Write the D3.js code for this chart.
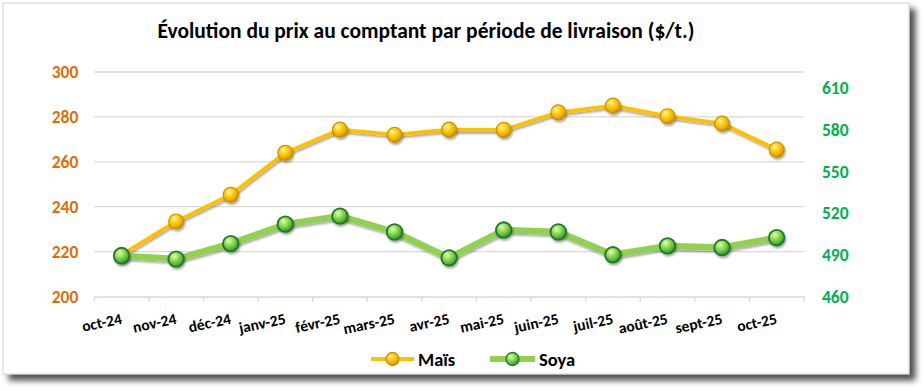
<!DOCTYPE html>
<html><head><meta charset="utf-8">
<script src="https://cdn.jsdelivr.net/npm/d3@7/dist/d3.min.js"></script>
<style>
html,body{margin:0;padding:0;background:#fff;}
svg{display:block;}
text{font-family:"Carlito","Liberation Sans Narrow","Open Sans",sans-serif;font-weight:bold;}
</style></head>
<body><svg id="c" width="924" height="391"></svg>
<script>
const categories = ["oct-24","nov-24","déc-24","janv-25","févr-25","mars-25","avr-25","mai-25","juin-25","juil-25","août-25","sept-25","oct-25"];
const maisValues = [218.5, 233.4, 245.3, 264, 274.3, 272, 274.3, 274.2, 282, 285, 280.3, 277, 265.4];
const soyaValues = [489.3, 486.9, 498, 512, 517.8, 506.4, 487.8, 507.8, 506.4, 490, 496.4, 495.2, 502.3];
const leftTicks = [200, 220, 240, 260, 280, 300];
const rightTicks = [460, 490, 520, 550, 580, 610];
const title = "Évolution du prix au comptant par période de livraison ($/t.)";
const seriesNames = ["Maïs", "Soya"];

const svg = d3.select("#c");
const defs = svg.append("defs");

const sh = defs.append("filter").attr("id","fs").attr("x","-5%").attr("y","-5%").attr("width","115%").attr("height","120%");
sh.append("feGaussianBlur").attr("in","SourceAlpha").attr("stdDeviation",3);
sh.append("feOffset").attr("dx",6).attr("dy",6).attr("result","o");
sh.append("feComponentTransfer").append("feFuncA").attr("type","linear").attr("slope",0.7);
const m1 = sh.append("feMerge"); m1.append("feMergeNode"); m1.append("feMergeNode").attr("in","SourceGraphic");

const ms = defs.append("filter").attr("id","ms").attr("x","-50%").attr("y","-50%").attr("width","200%").attr("height","200%");
ms.append("feGaussianBlur").attr("in","SourceAlpha").attr("stdDeviation",1.2);
ms.append("feOffset").attr("dx",1).attr("dy",1.5).attr("result","o");
ms.append("feComponentTransfer").append("feFuncA").attr("type","linear").attr("slope",0.35);
const m2 = ms.append("feMerge"); m2.append("feMergeNode"); m2.append("feMergeNode").attr("in","SourceGraphic");

function radial(id, stops){
  const g = defs.append("radialGradient").attr("id",id).attr("cx","38%").attr("cy","32%").attr("r","70%");
  stops.forEach(s=>g.append("stop").attr("offset",s[0]).attr("stop-color",s[1]));
}
radial("gGold", [["0%","#fff7b0"],["35%","#ffd21a"],["80%","#e6a800"],["100%","#b07800"]]);
radial("gGreen", [["0%","#e2ffb0"],["35%","#9fe060"],["80%","#4fb030"],["100%","#2a7a1e"]]);

svg.append("rect").attr("x",3).attr("y",3).attr("width",906).attr("height",371)
  .attr("fill","#fff").attr("stroke","#d0d0d0").attr("stroke-width",1).attr("filter","url(#fs)");

const L = 94.3, R = 804, T = 72, B = 296.5;
const x = d3.scaleBand().domain(categories).range([L, R]);
const yL = d3.scaleLinear().domain([200, 300]).range([B, T]);
const yR = d3.scaleLinear().domain([460, 621.5]).range([B, T]);

const FF = '"Carlito","Liberation Sans Narrow","Open Sans",sans-serif';

svg.append("text").attr("x",426).attr("y",38).attr("text-anchor","middle")
  .attr("font-size",21.5).attr("fill","#000").text(title);

svg.append("g").selectAll("line").data(leftTicks.slice(1)).join("line")
  .attr("x1",L).attr("x2",R).attr("y1",d=>yL(d)).attr("y2",d=>yL(d))
  .attr("stroke","#d9d9d9").attr("stroke-width",1.3);

const xa = svg.append("g").attr("transform",`translate(0,${B})`)
  .call(d3.axisBottom(x).tickSize(0).tickFormat(""));
xa.select(".domain").attr("stroke","#d9d9d9").attr("stroke-width",1.3);
const tickPos = categories.map(c=>x(c)).concat([R]);
svg.append("g").selectAll("line").data(tickPos).join("line")
  .attr("x1",d=>d).attr("x2",d=>d).attr("y1",B).attr("y2",B+5)
  .attr("stroke","#d9d9d9").attr("stroke-width",1.3);
svg.append("g").selectAll("text").data(categories).join("text")
  .attr("transform",d=>`translate(${x(d)+x.bandwidth()/2+1},${B+27}) rotate(-12)`)
  .attr("text-anchor","end").attr("font-size",15.5).attr("fill","#000").text(d=>d);

const la = svg.append("g").attr("transform",`translate(${L-16},0)`)
  .call(d3.axisLeft(yL).tickValues(leftTicks).tickSize(0).tickPadding(0));
la.select(".domain").remove();
la.selectAll("text").attr("font-size",17.5).attr("fill","#e36c09")
  .style("font-family",FF).style("font-weight","bold");

const ra = svg.append("g").attr("transform",`translate(${R+18},0)`)
  .call(d3.axisRight(yR).tickValues(rightTicks).tickSize(0).tickPadding(0));
ra.select(".domain").remove();
ra.selectAll("text").attr("font-size",17.5).attr("fill","#00b050")
  .style("font-family",FF).style("font-weight","bold");

const cx = d => x(d) + x.bandwidth()/2;
const lineM = d3.line().x((d,i)=>cx(categories[i])).y(d=>yL(d));
const lineS = d3.line().x((d,i)=>cx(categories[i])).y(d=>yR(d));

svg.append("path").datum(maisValues).attr("d",lineM).attr("fill","none")
  .attr("stroke","#ffc000").attr("stroke-width",4).attr("stroke-linejoin","round").attr("filter","url(#ms)");
svg.append("g").selectAll("circle").data(maisValues).join("circle")
  .attr("cx",(d,i)=>cx(categories[i])).attr("cy",d=>yL(d)).attr("r",7.5)
  .attr("fill","url(#gGold)").attr("stroke","#c99400").attr("stroke-width",1.2).attr("filter","url(#ms)");

svg.append("path").datum(soyaValues).attr("d",lineS).attr("fill","none")
  .attr("stroke","#92d050").attr("stroke-width",6.5).attr("stroke-linejoin","round").attr("filter","url(#ms)");
svg.append("g").selectAll("circle").data(soyaValues).join("circle")
  .attr("cx",(d,i)=>cx(categories[i])).attr("cy",d=>yR(d)).attr("r",7.8)
  .attr("fill","url(#gGreen)").attr("stroke","#1e7a2a").attr("stroke-width",1.8).attr("filter","url(#ms)");

const leg = [{name:seriesNames[0], x0:371, x1:414, color:"#ffc000", w:4, fill:"url(#gGold)", st:"#c99400"},
             {name:seriesNames[1], x0:490, x1:535, color:"#92d050", w:6, fill:"url(#gGreen)", st:"#1e7a2a"}];
const lg = svg.append("g").selectAll("g").data(leg).join("g");
lg.append("line").attr("x1",d=>d.x0).attr("x2",d=>d.x1).attr("y1",359).attr("y2",359)
  .attr("stroke",d=>d.color).attr("stroke-width",d=>d.w);
lg.append("circle").attr("cx",d=>(d.x0+d.x1)/2).attr("cy",359).attr("r",6.5)
  .attr("fill",d=>d.fill).attr("stroke",d=>d.st).attr("stroke-width",1.3);
lg.append("text").attr("x",d=>d.x1+4).attr("y",365.5).attr("font-size",18.5).attr("fill","#000").text(d=>d.name);
</script></body></html>
